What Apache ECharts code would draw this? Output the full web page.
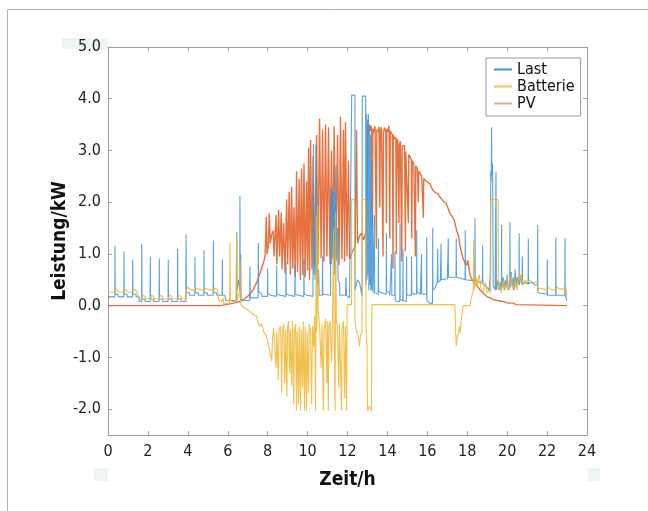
<!DOCTYPE html>
<html><head><meta charset="utf-8">
<script src="https://cdn.jsdelivr.net/npm/echarts@6/dist/echarts.min.js"></script>
<style>html,body{margin:0;padding:0;background:#fff}#c{width:648px;height:511px}</style>
</head><body><div id="c"></div>
<script>
const xTicks = [0,2,4,6,8,10,12,14,16,18,20,22,24];
const yTicks = [-2,-1,0,1,2,3,4,5];
const seriesNames = ['Last','Batterie','PV'];

// Last (load) [hour, kW]
const lastData = [[0,0.17],[0.34,0.17],[0.35,1.16],[0.36,0.22],[0.5,0.22],[0.51,0.17],
[0.79,0.17],[0.80,1.05],[0.81,0.22],[0.95,0.22],[0.96,0.17],
[1.23,0.17],[1.24,0.89],[1.25,0.22],[1.4,0.22],[1.41,0.17],[1.55,0.17],[1.56,0.08],
[1.68,0.08],[1.69,1.19],[1.70,0.13],[1.85,0.13],[1.86,0.08],
[2.11,0.08],[2.12,0.95],[2.13,0.13],[2.28,0.13],[2.29,0.08],
[2.56,0.08],[2.57,0.91],[2.58,0.13],[2.73,0.13],[2.74,0.08],
[3.01,0.08],[3.02,0.89],[3.03,0.13],[3.18,0.13],[3.19,0.08],
[3.48,0.08],[3.49,1.10],[3.50,0.13],[3.65,0.13],[3.66,0.08],
[3.90,0.08],[3.91,1.38],[3.93,0.25],[4.08,0.25],[4.09,0.2],
[4.35,0.2],[4.36,0.94],[4.37,0.25],[4.52,0.25],[4.53,0.2],
[4.80,0.2],[4.81,1.07],[4.82,0.25],[4.97,0.25],[4.98,0.2],
[5.27,0.2],[5.28,1.26],[5.29,0.25],[5.44,0.25],[5.45,0.2],
[5.72,0.2],[5.73,0.89],[5.74,0.2],[5.85,0.2],[5.9,0.1],
[6.44,0.1],[6.45,1.43],[6.47,0.3],[6.55,0.5],[6.6,0.3],[6.61,2.12],[6.63,0.1],[6.65,1.0],[6.67,0.1],
[7.10,0.1],[7.11,0.76],[7.13,0.15],[7.52,0.15],[7.53,1.21],[7.55,0.28],[7.7,0.22],[7.72,0.18],
[7.99,0.18],[8.0,0.72],[8.01,0.23],[8.15,0.2],[8.16,0.18],
[8.44,0.18],[8.45,0.78],[8.46,0.23],[8.6,0.2],[8.61,0.18],
[8.91,0.18],[8.92,0.85],[8.93,0.23],[9.07,0.2],[9.08,0.18],
[9.36,0.18],[9.37,0.8],[9.38,0.23],[9.52,0.2],[9.53,0.18],
[9.81,0.18],[9.82,0.9],[9.83,0.23],[9.97,0.2],[9.98,0.18],
[10.27,0.18],[10.29,3.13],[10.31,0.6],[10.35,1.5],[10.38,0.5],[10.42,3.1],[10.44,0.6],[10.48,2.0],[10.5,0.4],[10.55,0.7],[10.58,0.2],
[10.74,0.2],[10.75,0.95],[10.76,0.22],[11.15,0.2],[11.17,2.3],[11.2,0.8],[11.24,2.25],[11.28,1.0],[11.32,2.2],[11.36,0.6],[11.42,2.7],[11.45,0.9],[11.5,1.5],[11.53,0.5],[11.6,0.45],[11.62,0.2],
[11.9,0.2],[11.92,0.55],[11.95,0.2],[12.1,0.15],[12.2,0.18],[12.21,4.07],[12.3,4.05],[12.37,4.07],[12.38,0.3],[12.5,0.5],[12.6,0.45],[12.73,0.18],[12.74,4.05],[12.82,4.02],[12.91,4.05],[12.92,0.4],
[12.96,3.7],[12.98,0.5],[13.0,3.6],[13.02,0.6],[13.05,3.7],[13.07,0.3],[13.1,3.5],[13.12,0.4],[13.15,3.3],[13.17,0.3],[13.2,2.8],[13.22,0.3],[13.25,1.8],[13.28,0.25],
[13.34,0.25],[13.35,1.75],[13.36,0.25],
[13.54,0.22],[13.55,1.3],[13.56,0.28],[13.7,0.25],[13.72,0.22],
[13.94,0.22],[13.95,1.4],[13.96,0.28],[14.1,0.25],[14.12,0.2],[14.2,0.2],[14.21,1.0],[14.22,0.2],
[14.37,0.2],[14.38,1.05],[14.39,0.12],[14.45,0.08],
[14.62,0.08],[14.63,1.58],[14.64,0.12],[14.77,0.1],[14.78,1.1],[14.79,0.1],[14.95,0.08],[14.96,0.95],[14.97,0.2],
[15.2,0.2],[15.21,0.95],[15.22,0.25],[15.35,0.22],
[15.46,0.22],[15.47,1.46],[15.48,0.27],[15.65,0.22],[15.7,0.22],[15.71,1.0],[15.72,0.22],
[15.96,0.22],[15.97,1.32],[15.98,0.1],[16.1,0.05],[16.2,0.05],
[16.26,0.05],[16.27,1.5],[16.28,0.3],[16.4,0.35],[16.5,0.45],[16.52,1.1],[16.53,0.45],[16.65,0.48],
[16.68,0.48],[16.69,1.2],[16.7,0.5],[17.0,0.52],[17.05,1.3],[17.06,0.55],
[17.44,0.55],[17.45,1.3],[17.46,0.55],[17.75,0.52],[17.89,0.5],[17.9,1.46],[17.91,0.5],
[18.38,0.48],[18.39,1.69],[18.4,0.5],[18.6,0.45],[18.76,0.45],[18.77,1.16],[18.78,0.42],[19.0,0.35],[19.1,0.3],
[19.15,0.6],[19.18,2.6],[19.2,2.4],[19.22,3.45],[19.23,2.7],[19.25,2.5],[19.27,2.75],[19.3,0.4],[19.4,0.3],[19.44,2.59],[19.46,0.3],
[19.55,0.5],[19.6,0.3],[19.65,0.45],[19.71,0.3],[19.72,1.56],[19.73,0.35],[19.8,0.55],[19.85,0.3],[19.9,0.5],[19.95,0.35],[20.0,0.6],[20.05,0.3],[20.13,0.4],[20.14,1.62],[20.15,0.35],[20.2,0.65],[20.25,0.35],[20.3,0.55],[20.35,0.3],[20.4,0.7],[20.45,0.35],[20.5,0.55],[20.59,0.4],[20.6,1.4],[20.61,0.4],[20.7,0.6],[20.75,0.4],[20.76,0.95],[20.78,0.4],[20.85,0.45],[21.05,0.42],[21.06,1.3],[21.07,0.42],[21.2,0.45],[21.4,0.4],[21.52,0.4],[21.53,1.56],[21.54,0.25],[21.6,0.22],
[22.0,0.22],[22.01,0.89],[22.02,0.2],[22.43,0.2],[22.44,1.32],[22.45,0.2],[22.89,0.2],[22.9,1.31],[22.91,0.18],[23.0,0.1]];

// Batterie (battery) [hour, kW]
const batData = [[0,0.26],[0.35,0.26],[0.4,0.32],[0.5,0.3],[0.55,0.26],[0.8,0.26],[0.85,0.32],[0.95,0.3],[1.0,0.26],[1.24,0.26],[1.29,0.32],[1.4,0.3],[1.45,0.26],[1.55,0.26],[1.56,0.13],
[1.69,0.13],[1.74,0.2],[1.85,0.18],[1.9,0.13],[2.12,0.13],[2.17,0.2],[2.28,0.18],[2.33,0.13],[2.57,0.13],[2.62,0.2],[2.73,0.18],[2.78,0.13],[3.02,0.13],[3.07,0.2],[3.18,0.18],[3.23,0.13],[3.49,0.13],[3.54,0.2],[3.65,0.18],[3.7,0.13],[3.91,0.13],[3.93,0.3],[3.98,0.36],[4.1,0.32],[4.15,0.29],[4.36,0.29],[4.41,0.34],[4.52,0.32],[4.57,0.29],[4.81,0.29],[4.86,0.34],[4.97,0.32],[5.02,0.29],[5.28,0.29],[5.33,0.34],[5.44,0.32],[5.5,0.28],[5.55,0.1],[5.7,0.08],[5.75,0.15],[5.8,0.05],[6.09,0.05],[6.11,1.21],[6.13,0.1],[6.25,0.08],[6.4,0.08],[6.45,1.4],[6.47,0.1],[6.6,0.3],[6.62,0.9],[6.64,0.05],[6.7,0.0],
[6.85,-0.05],[7.0,-0.08],[7.11,-0.11],[7.2,-0.15],[7.3,-0.13],[7.44,-0.2],[7.5,-0.3],[7.6,-0.4],[7.7,-0.35],[7.8,-0.5],[7.94,-0.59],[8.0,-0.7],[8.1,-0.85],[8.2,-1.07],[8.25,-0.6],[8.3,-0.43],[8.36,-0.45],[8.42,-1.2],[8.46,-0.5],[8.53,-1.43],[8.57,-0.45],[8.65,-0.4],[8.7,-1.68],[8.74,-0.5],[8.8,-0.35],[8.86,-1.5],[8.9,-0.45],[8.96,-1.75],[9.0,-0.4],[9.05,-0.3],[9.1,-1.3],[9.14,-0.45],[9.2,-1.55],[9.25,-0.3],[9.3,-1.9],[9.34,-0.5],[9.4,-0.35],[9.45,-2.03],[9.48,-0.5],[9.55,-1.9],[9.58,-0.4],[9.65,-2.03],[9.68,-0.45],[9.75,-1.6],[9.78,-0.3],[9.85,-2.03],[9.88,-0.4],[9.95,-2.03],[9.98,-0.5],[10.05,-1.7],[10.08,-0.35],[10.15,-0.5],[10.2,-1.9],[10.25,-0.4],[10.3,-0.8],[10.35,-0.2],[10.4,-2.03],[10.43,1.75],[10.46,-0.5],[10.5,1.95],[10.53,-0.1],[10.6,-0.4],[10.68,-1.2],[10.72,-0.35],[10.79,-2.03],[10.82,-0.5],[10.9,-0.25],[10.97,-1.5],[11.0,-0.3],[11.04,-2.03],[11.07,-0.4],[11.13,-0.3],[11.2,-1.1],[11.25,-0.2],[11.3,1.5],[11.33,-0.5],[11.38,-2.03],[11.41,1.8],[11.44,-0.3],[11.5,-0.45],[11.56,-1.6],[11.6,-0.35],[11.7,-2.03],[11.73,-0.45],[11.8,-0.3],[11.86,-1.8],[11.9,-0.4],[11.96,-2.03],[11.98,0.02],[12.2,0.02],[12.21,2.05],[12.36,2.05],[12.37,-0.3],[12.45,-0.5],[12.55,-0.6],[12.6,-0.79],[12.66,-0.55],[12.73,-0.5],[12.74,2.05],[12.92,2.05],[12.93,-0.4],[12.98,-0.8],[13.0,-2.03],[13.1,-1.95],[13.2,-2.03],[13.22,0.02],
[17.38,0.02],[17.42,-0.5],[17.45,-0.78],[17.5,-0.6],[17.55,-0.55],[17.6,-0.4],[17.64,-0.52],[17.72,-0.2],[17.8,0.0],[18.14,0.0],[18.2,0.15],[18.3,0.28],[18.32,1.27],[18.34,0.3],[18.4,0.45],[18.45,0.55],[18.5,0.35],[18.6,0.6],[18.7,0.3],[18.8,0.25],[18.9,0.45],[19.0,0.25],[19.1,0.3],[19.17,0.24],[19.18,2.05],[19.55,2.05],[19.56,0.3],[19.62,0.45],[19.7,0.25],[19.8,0.5],[19.9,0.3],[20.0,0.55],[20.1,0.3],[20.2,0.6],[20.3,0.3],[20.4,0.5],[20.5,0.3],[20.6,0.65],[20.65,0.45],[20.7,0.6],[20.8,0.4],[20.9,0.5],[21.0,0.45],[21.1,0.5],[21.3,0.45],[21.5,0.45],[21.55,0.3],[21.6,0.34],
[21.9,0.31],[22.0,0.31],[22.05,0.36],[22.15,0.33],[22.2,0.31],[22.44,0.31],[22.49,0.36],[22.6,0.33],[22.65,0.31],[22.9,0.31],[22.95,0.36],[23.0,0.15]];

// PV [hour, kW]
const pvData = [[0,0],[5.65,0],[5.9,0.02],[6.3,0.05],[6.6,0.08],[6.78,0.12],[7.0,0.18],[7.15,0.24],[7.28,0.31],[7.45,0.45],[7.62,0.63],[7.75,0.78],[7.87,0.95],[7.93,1.72],[7.97,1.0],[8.03,1.14],[8.08,1.78],[8.13,1.2],[8.2,1.37],[8.28,1.45],[8.32,0.95],[8.42,1.75],[8.46,0.8],[8.55,1.85],[8.6,0.95],[8.68,1.8],[8.72,0.7],[8.8,1.6],[8.87,0.62],[8.95,2.05],[9.0,0.8],[9.08,2.2],[9.14,0.6],[9.2,2.3],[9.26,0.72],[9.32,1.9],[9.38,0.55],[9.45,2.6],[9.5,0.65],[9.58,2.45],[9.64,0.5],[9.7,2.65],[9.76,0.6],[9.82,2.75],[9.88,0.55],[9.95,2.4],[10.0,0.68],[10.05,3.05],[10.1,0.5],[10.15,3.2],[10.22,0.7],[10.28,2.9],[10.35,0.76],[10.45,3.3],[10.52,0.8],[10.6,3.62],[10.68,0.92],[10.75,3.4],[10.82,0.85],[10.9,3.5],[10.97,0.95],[11.05,3.45],[11.12,0.8],[11.2,3.0],[11.27,0.9],[11.33,3.47],[11.42,0.85],[11.5,3.3],[11.58,0.78],[11.65,3.65],[11.72,0.9],[11.8,3.4],[11.85,0.85],[11.9,3.55],[11.97,0.95],[12.05,2.8],[12.1,0.9],[12.25,1.05],[12.38,1.14],[12.45,3.4],[12.5,1.2],[12.6,1.35],[12.7,1.4],[12.8,1.27],[12.94,1.45],[13.03,3.5],
[13.07,3.4],[13.1,3.5],[13.15,3.38],[13.2,3.48],[13.25,1.5],[13.27,3.42],[13.32,3.35],[13.38,3.47],[13.45,1.1],[13.47,3.4],[13.52,3.36],[13.58,3.46],[13.62,1.9],[13.64,3.38],[13.7,3.45],[13.78,0.95],[13.8,3.35],[13.86,3.44],[13.92,3.36],[13.95,1.6],[13.97,3.42],[14.02,3.36],[14.08,3.48],[14.12,1.3],[14.14,3.38],[14.2,3.4],[14.25,3.3],[14.28,0.72],[14.3,3.3],[14.36,3.22],[14.42,3.26],[14.45,1.0],[14.47,3.18],[14.52,3.22],[14.58,1.6],[14.6,3.12],[14.65,3.18],[14.72,0.85],[14.74,3.08],[14.8,3.05],[14.86,3.1],[14.9,1.05],[14.92,2.98],[15.0,2.95],[15.05,1.6],[15.07,2.92],[15.13,2.88],[15.2,2.82],[15.22,1.3],[15.24,2.8],[15.32,2.75],[15.4,0.95],[15.42,2.7],[15.5,2.65],[15.55,2.0],[15.57,2.6],[15.63,2.56],[15.72,2.5],[15.8,1.7],[15.82,2.46],[15.9,2.42],[16.0,2.4],[16.13,2.36],[16.25,2.25],[16.4,2.18],[16.52,2.17],[16.63,2.1],[16.8,2.02],[16.94,1.98],[17.13,1.79],[17.25,1.72],[17.35,1.65],[17.47,1.45],[17.56,1.35],[17.64,1.14],[17.72,1.02],[17.8,0.9],[17.9,0.82],[17.97,0.78],[18.02,0.88],[18.07,0.76],[18.14,0.58],[18.25,0.5],[18.39,0.44],[18.5,0.38],[18.64,0.3],[18.8,0.24],[18.97,0.18],[19.3,0.12],[19.5,0.1],[19.8,0.08],[20.05,0.05],[20.3,0.05],[20.45,0.02],[20.55,0.0],[23.0,0]];

const FONT = "'Liberation Sans Narrow','DejaVu Sans Condensed','Open Sans',sans-serif";
const GRAY = '#a0a0a0';
const chart = echarts.init(document.getElementById('c'), null, {renderer:'canvas'});
const mkX = (pos, show) => ({
  type:'value', min:0, max:24, interval:2, position:pos,
  axisLine:{show:true, onZero:false, lineStyle:{color:GRAY, width:1}},
  axisTick:{show:true, inside:true, length:4, lineStyle:{color:GRAY}},
  axisLabel:{show:show, fontFamily:FONT, fontSize:16, color:'#222', margin:9},
  splitLine:{show:false},
  name: show ? 'Zeit/h' : '', nameLocation:'middle', nameGap:36, nameMoveOverlap:false,
  nameTextStyle:{fontFamily:FONT, fontSize:19, fontWeight:'bold', color:'#111'}
});
const mkY = (pos, show) => ({
  type:'value', min:-2.5, max:5, position:pos,
  axisLine:{show:true, onZero:false, lineStyle:{color:GRAY, width:1}},
  axisTick:{show:true, inside:true, length:4, customValues:yTicks, lineStyle:{color:GRAY}},
  axisLabel:{show:show, customValues:yTicks, fontFamily:FONT, fontSize:16, color:'#222', margin:7,
    formatter:v => Number(v).toFixed(1)},
  splitLine:{show:false},
  name: show ? 'Leistung/kW' : '', nameLocation:'middle', nameGap:38, nameMoveOverlap:false,
  nameTextStyle:{fontFamily:FONT, fontSize:19, fontWeight:'bold', color:'#111'}
});
chart.setOption({
  animation:false,
  backgroundColor:'#fff',
  grid:{left:108, right:61, top:47, bottom:76, containLabel:false},
  xAxis:[mkX('bottom', true), mkX('top', false)],
  yAxis:[mkY('left', true), mkY('right', false)],
  legend:{
    orient:'vertical', left:486, top:58, width:76,
    padding:[3,6,4,8], itemGap:0, itemWidth:18, itemHeight:2, icon:'rect',
    backgroundColor:'#fff', borderColor:'#9a9a9a', borderWidth:1,
    textStyle:{fontFamily:FONT, fontSize:16, color:'#111', lineHeight:17},
    data:[
      {name:seriesNames[0], itemStyle:{color:'#3f97dd'}},
      {name:seriesNames[1], itemStyle:{color:'#f5c14c'}},
      {name:seriesNames[2], itemStyle:{color:'#f4a58a'}}
    ]
  },
  graphic:[
    {type:'rect', silent:true, z:-10, shape:{x:7.5, y:9.5, width:700, height:600}, style:{fill:'none', stroke:'#b4b4b4', lineWidth:1}},
    {type:'rect', silent:true, z:-5, shape:{x:62, y:38, width:45, height:11}, style:{fill:'#ebf6f0'}},
    {type:'rect', silent:true, z:-5, shape:{x:94, y:468, width:14, height:13}, style:{fill:'#ebf6f0'}},
    {type:'rect', silent:true, z:-5, shape:{x:588, y:468, width:12, height:13}, style:{fill:'#ebf6f0'}}
  ],
  series:[
    {name:seriesNames[2], type:'line', data:pvData, showSymbol:false, symbol:'none', z:2,
      lineStyle:{color:'#e2581d', width:1.4, opacity:0.85}, itemStyle:{color:'#e2581d'}},
    {name:seriesNames[0], type:'line', data:lastData, showSymbol:false, symbol:'none', z:3,
      lineStyle:{color:'#3a93db', width:1.1, opacity:0.85}, itemStyle:{color:'#3a93db'}},
    {name:seriesNames[1], type:'line', data:batData, showSymbol:false, symbol:'none', z:4,
      lineStyle:{color:'#f0b429', width:1.1, opacity:0.85}, itemStyle:{color:'#f0b429'}}
  ]
});
</script></body></html>
